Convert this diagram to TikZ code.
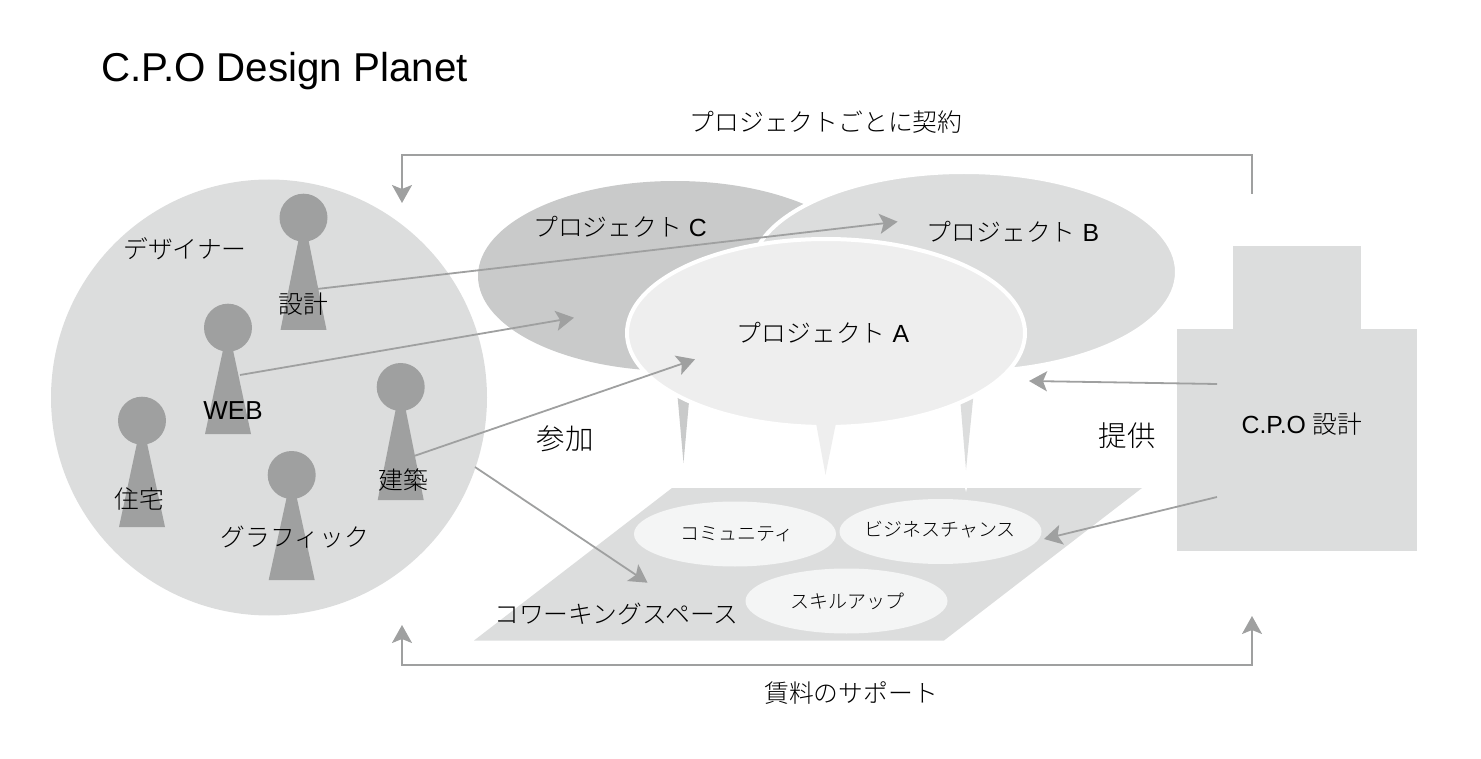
\documentclass[tikz,border=0pt]{standalone}
\usepackage{fontspec}
\setmainfont{Liberation Sans}
\newfontfamily\cjkfont{Noto Sans CJK JP Light}
\usetikzlibrary{arrows.meta, shapes.geometric}

\definecolor{lightfill}{HTML}{DCDDDD}
\definecolor{midfill}{HTML}{C9CACA}
\definecolor{palefill}{HTML}{EEEEEE}
\definecolor{skillfill}{HTML}{F4F5F5}
\definecolor{persongray}{HTML}{9FA0A0}

\newcommand{\sized}[1]{\fontsize{#1}{#1}\selectfont}

\tikzset{
    planetext/.style = {inner sep = 0, text = black, font = \sized{24.8}},
    jptext/.style = {inner sep = 0, text = black, font = \sized{24.8}\cjkfont},
    smalltext/.style = {inner sep = 0, text = black, font = \sized{19}\cjkfont},
    project/.style = {ellipse, inner sep = 0, draw = white, line width = 4pt},
    skill/.style = {ellipse, inner sep = 0, fill = skillfill, minimum width = 202pt, minimum height = 65pt},
    arrowline/.style = {draw = persongray, line width = 1.8pt, -{Stealth[length = 18pt, width = 20pt, inset = 4pt]}},
    plainline/.style = {draw = persongray, line width = 1.8pt}
}

\begin{document}
\begin{tikzpicture}[x = 1pt, y = -1pt]

        \useasboundingbox (0, 0) rectangle (1481, 759);

        % Title
        \node (title) [planetext, anchor = base west, font = \sized{40.3}] at (101, 82) {C.P.O Design Planet};

        % Designers
        \node (designers) [circle, inner sep = 0, fill = lightfill, minimum size = 436pt] at (269, 397.5) {};
        \node (designerslabel) [jptext] at (185, 249) {デザイナー};

        %% People
        \foreach \hx/\hy/\by in {303.5/217.7/330, 228/327.7/434, 142/420.7/527, 291.7/475/580, 400.7/387/500}
        {
            \fill [persongray] (\hx, \hy) circle (24);
            \fill [persongray] (\hx - 4.5, \hy + 20) -- (\hx + 4.5, \hy + 20)
                -- (\hx + 23, \by) -- (\hx - 23, \by) -- cycle;
        }
        \node (design) [jptext] at (303, 304) {設計};
        \node (web) [planetext, font = \sized{26}] at (233, 411) {WEB};
        \node (housing) [jptext] at (139, 499) {住宅};
        \node (graphic) [jptext] at (295, 537) {グラフィック};
        \node (building) [jptext] at (403, 480) {建築};

        % Speech tails
        \fill [midfill] (676.5, 385) -- (690.5, 385) -- (683.5, 463) -- cycle;
        \fill [lightfill] (959, 385) -- (974.5, 385) -- (966, 470) -- cycle;

        % Projects
        \node (projC) [project, fill = midfill, draw = none, minimum width = 394pt, minimum height = 190pt] at (675, 276) {};
        \node (projB) [project, fill = lightfill, minimum width = 426pt, minimum height = 200pt] at (964, 272) {};
        \node (projA) [project, fill = palefill, minimum width = 398pt, minimum height = 188pt] at (826, 333) {};
        \fill [palefill] (816, 423) -- (836, 423) -- (825.5, 475) -- cycle;
        \node (projClabel) [planetext] at (620, 227) {{\cjkfont プロジェクト} C};
        \node (projBlabel) [planetext] at (1013, 232) {{\cjkfont プロジェクト} B};
        \node (projAlabel) [planetext] at (823, 333) {{\cjkfont プロジェクト} A};

        % Coworking space
        \fill [lightfill] (672, 488) -- (1142, 488) -- (944, 640.5) -- (474, 640.5) -- cycle;
        \fill [white] (965, 488) -- (967, 488) -- (966, 492) -- cycle;
        \node (community) [skill] at (735, 534) {};
        \node (chance) [skill] at (940.5, 531.5) {};
        \node (skillup) [skill] at (846.5, 601) {};
        \node (communitylabel) [smalltext] at (737, 534) {コミュニティ};
        \node (chancelabel) [smalltext] at (940, 530) {ビジネスチャンス};
        \node (skilluplabel) [smalltext] at (847, 601) {スキルアップ};
        \node (spacelabel) [jptext] at (616.5, 614) {コワーキングスペース};

        % C.P.O office
        \fill [lightfill] (1233, 246) rectangle (1361, 329.5);
        \fill [lightfill] (1177, 329) rectangle (1417, 551);
        \node (office) [planetext] at (1302, 424) {C.P.O {\cjkfont 設計}};

        % Labels
        \node (join) [jptext, font = \sized{28.5}\cjkfont] at (565, 439) {参加};
        \node (offer) [jptext, font = \sized{28.5}\cjkfont] at (1127, 436) {提供};
        \node (contract) [jptext] at (826, 122) {プロジェクトごとに契約};
        \node (rent) [jptext] at (851, 693) {賃料のサポート};

        %% Arrow ends
        \coordinate (designout) at (317, 289);
        \coordinate (webout) at (240, 375);
        \coordinate (buildout) at (415, 455.7);
        \coordinate (circleout) at (475, 467);
        \coordinate (projBin) at (897.6, 221.7);
        \coordinate (projCin) at (574, 317.7);
        \coordinate (projAin) at (695, 359.3);
        \coordinate (spacein) at (647.6, 582.7);
        \coordinate (officeupper) at (1217, 384);
        \coordinate (officelower) at (1217, 497);
        \coordinate (projAright) at (1029, 381);
        \coordinate (chancein) at (1044, 539);
        \coordinate (contractstart) at (1252, 194);
        \coordinate (contractend) at (402, 203);
        \coordinate (rentleft) at (402, 625);
        \coordinate (rentright) at (1252, 616);

        %% Arrows
        \draw [arrowline] (designout) -- (projBin);
        \draw [arrowline] (webout) -- (projCin);
        \draw [arrowline] (buildout) -- (projAin);
        \draw [arrowline] (circleout) -- (spacein);
        \draw [arrowline] (officeupper) -- (projAright);
        \draw [arrowline] (officelower) -- (chancein);

        %% Brackets
        \draw [arrowline] (contractstart) -- (1252, 155) -- (402, 155) -- (contractend);
        \draw [arrowline, {Stealth[length = 18pt, width = 20pt, inset = 4pt]}-{Stealth[length = 18pt, width = 20pt, inset = 4pt]}] (rentleft) -- (402, 665) -- (1252, 665) -- (rentright);

    \end{tikzpicture}
\end{document}
